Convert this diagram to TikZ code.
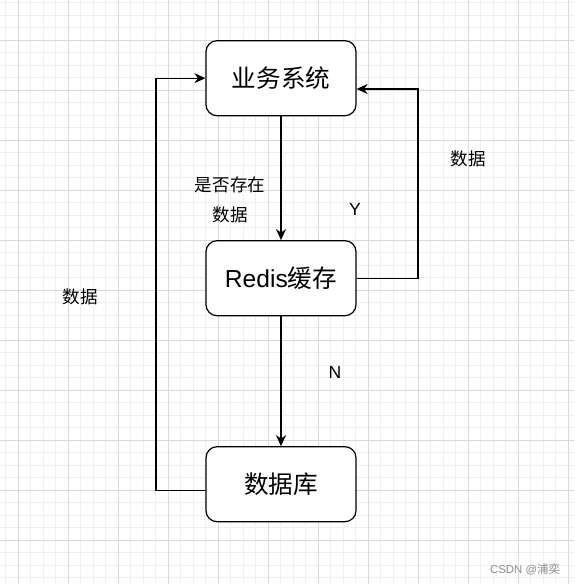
\documentclass[tikz,border=0pt]{standalone}
\usepackage{fontspec}
\setmainfont{Liberation Sans}
\newfontfamily\cjk{Noto Sans CJK SC}
\usetikzlibrary{positioning,arrows.meta}
\definecolor{gridmajor}{HTML}{D9D9D9}
\definecolor{gridminor}{HTML}{EFEFEF}

\begin{document}
\begin{tikzpicture}[x=0.02cm, y=-0.02cm,
        boxnode/.style={rectangle, rounded corners=0.22cm, draw=black, line width=0.7pt, fill=white,
                        minimum width=3cm, minimum height=1.5cm, font=\fontsize{14}{16}\selectfont},
        lbl/.style={font=\fontsize{10}{12}\selectfont, inner sep=1pt},
        arr/.style={line width=0.7pt, -{Stealth[length=2.2mm, width=2mm, inset=0.7mm]}}]
        \useasboundingbox (0,0) rectangle (574,584);
        % grid
        \foreach \gx in {5.8,18.3,...,574} \draw[gridminor, line width=0.4pt] (\gx,0) -- (\gx,584);
        \foreach \gy in {2.5,15,...,584} \draw[gridminor, line width=0.4pt] (0,\gy) -- (574,\gy);
        \foreach \gx in {18.3,68.3,...,574} \draw[gridmajor, line width=0.5pt] (\gx,0) -- (\gx,584);
        \foreach \gy in {40,90,...,584} \draw[gridmajor, line width=0.5pt] (0,\gy) -- (574,\gy);
        % boxes
        \node[boxnode] at (281,78.2) (SYS) {\cjk 业务系统};
        \node[boxnode] at (281,278.2) (REDIS) {Redis{\cjk 缓存}};
        \node[boxnode] at (281,484.2) (DB) {\cjk 数据库};
        \coordinate (rtop) at (418,89);
        \coordinate (lbot) at (156,490.3);
        % straight lines
        \draw[arr] (SYS) -- (REDIS);
        \draw[arr] (REDIS) -- (DB);
        % elbow lines
        \draw[arr] (REDIS.east) -| (rtop) -- (rtop -| SYS.east);
        \draw[arr] (lbot -| DB.west) -- (lbot) |- (SYS.west);
        % labels
        \node[lbl] at (230,185) (ASK) {\cjk 是否存在};
        \node[lbl] at (230,214.5) (ASKDATA) {\cjk 数据};
        \node[lbl] at (355,209) (YES) {Y};
        \node[lbl] at (335,372) (NO) {N};
        \node[lbl] at (468,159) (RDATA) {\cjk 数据};
        \node[lbl] at (80,297) (LDATA) {\cjk 数据};
        \node[font=\fontsize{6.5}{8}\selectfont, text=black!45, inner sep=0pt] at (525,569.5) (MARK) {CSDN @{\cjk 浦奕}};
\end{tikzpicture}
\end{document}
